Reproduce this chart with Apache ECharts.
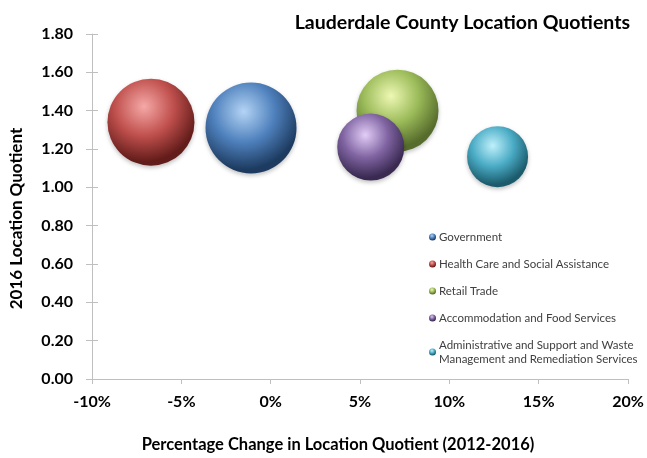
<!DOCTYPE html>
<html>
<head>
<meta charset="utf-8">
<script src="https://cdn.jsdelivr.net/npm/echarts@6/dist/echarts.min.js"></script>
<style>
html,body{margin:0;padding:0;background:#fff;}
#c{width:647px;height:458px;}
</style>
</head>
<body>
<div id="c"></div>
<script>
// Data
const seriesNames = [
  "Government",
  "Health Care and Social Assistance",
  "Retail Trade",
  "Accommodation and Food Services",
  "Administrative and Support and Waste Management and Remediation Services"
];
const pctChange = [-1.1, -6.7, 7.1, 5.6, 12.7];      // x: % change in LQ 2012-2016
const lq2016 = [1.31, 1.34, 1.40, 1.21, 1.16];         // y: 2016 location quotient
const bubbleSize = [100, 91.4, 81.2, 54.2, 44.9];      // relative bubble area
const xTicks = [-10, -5, 0, 5, 10, 15, 20];
const yTicks = [0, 0.2, 0.4, 0.6, 0.8, 1.0, 1.2, 1.4, 1.6, 1.8];

const palette = [
  {hi:'#b4d4f5', mid:'#4f81bd', lo:'#1d3b60'},
  {hi:'#f5a9a7', mid:'#c0504d', lo:'#621c1a'},
  {hi:'#eef8b4', mid:'#9bbb59', lo:'#566c2c'},
  {hi:'#e2cdf7', mid:'#8064a2', lo:'#3a2a52'},
  {hi:'#bff0fb', mid:'#4bacc6', lo:'#1b5b6c'}
];
const maxDia = 91;
const maxSize = Math.max(...bubbleSize);
const font = 'Lato, "Open Sans", sans-serif';

function grad(p){
  return {type:'radial', x:0.42, y:0.32, r:0.75,
    colorStops:[{offset:0,color:p.hi},{offset:0.45,color:p.mid},{offset:0.85,color:p.lo},{offset:1,color:p.lo}]};
}

const series = seriesNames.map((n,i)=>({
  name:n,
  type:'scatter',
  data:[[pctChange[i], lq2016[i], bubbleSize[i]]],
  symbolSize:(v)=>maxDia*Math.sqrt(v[2]/maxSize),
  itemStyle:{color:grad(palette[i]), opacity:1, shadowBlur:4, shadowColor:'rgba(0,0,0,0.25)', shadowOffsetY:2},
  emphasis:{disabled:true}
}));

const axisGray = '#bfbfbf';
const chart = echarts.init(document.getElementById('c'), null, {renderer:'canvas'});
chart.setOption({
  animation:false,
  backgroundColor:'#fff',
  title:{
    text:'Lauderdale County Location Quotients',
    right:12, top:8,
    textStyle:{fontFamily:font, fontWeight:'bold', fontSize:19.5, color:'#000'}
  },
  grid:{left:92, right:19, top:34, bottom:78, containLabel:false},
  legend:{
    orient:'vertical',
    left:424, top:225,
    itemWidth:7, itemHeight:7, itemGap:13,
    icon:'circle',
    data:seriesNames,
    formatter:(n)=> n.startsWith('Administrative') ? 'Administrative and Support and Waste\nManagement and Remediation Services' : n,
    textStyle:{fontFamily:font, fontSize:11.5, color:'#404040', lineHeight:14, padding:[0,0,0,-2]}
  },
  xAxis:{
    type:'value', min:xTicks[0], max:xTicks[xTicks.length-1], interval:5,
    splitLine:{show:false},
    axisLine:{onZero:false, lineStyle:{color:axisGray}},
    axisTick:{show:true, length:5, lineStyle:{color:axisGray}},
    axisLabel:{formatter:(v)=>v+'%', margin:15, fontFamily:font, fontWeight:'bold', fontSize:16, color:'#000'},
    name:'Percentage Change in Location Quotient (2012-2016)',
    nameLocation:'middle', nameGap:57,
    nameTextStyle:{fontFamily:font, fontWeight:'bold', fontSize:16.5, color:'#000', padding:[0,44,0,0]}
  },
  yAxis:[{
    type:'value', min:yTicks[0], max:yTicks[yTicks.length-1], interval:0.2,
    splitLine:{show:false},
    axisLine:{show:true, onZero:false, lineStyle:{color:axisGray}},
    axisTick:{show:true, length:6, lineStyle:{color:axisGray}},
    axisLabel:{formatter:(v)=>v.toFixed(2), margin:19, fontFamily:font, fontWeight:'bold', fontSize:16, color:'#000'},
    name:'2016 Location Quotient',
    nameLocation:'middle', nameGap:67, nameRotate:90,
    nameTextStyle:{fontFamily:font, fontWeight:'bold', fontSize:17, color:'#000', padding:[0,24,0,0]}
  },{
    type:'value', min:yTicks[0], max:yTicks[yTicks.length-1], interval:0.2, position:'left',
    splitLine:{show:false},
    axisLine:{show:false, onZero:false},
    axisTick:{show:true, inside:true, length:6, lineStyle:{color:axisGray}},
    axisLabel:{show:false}
  }],
  series:series
});
</script>
</body>
</html>
